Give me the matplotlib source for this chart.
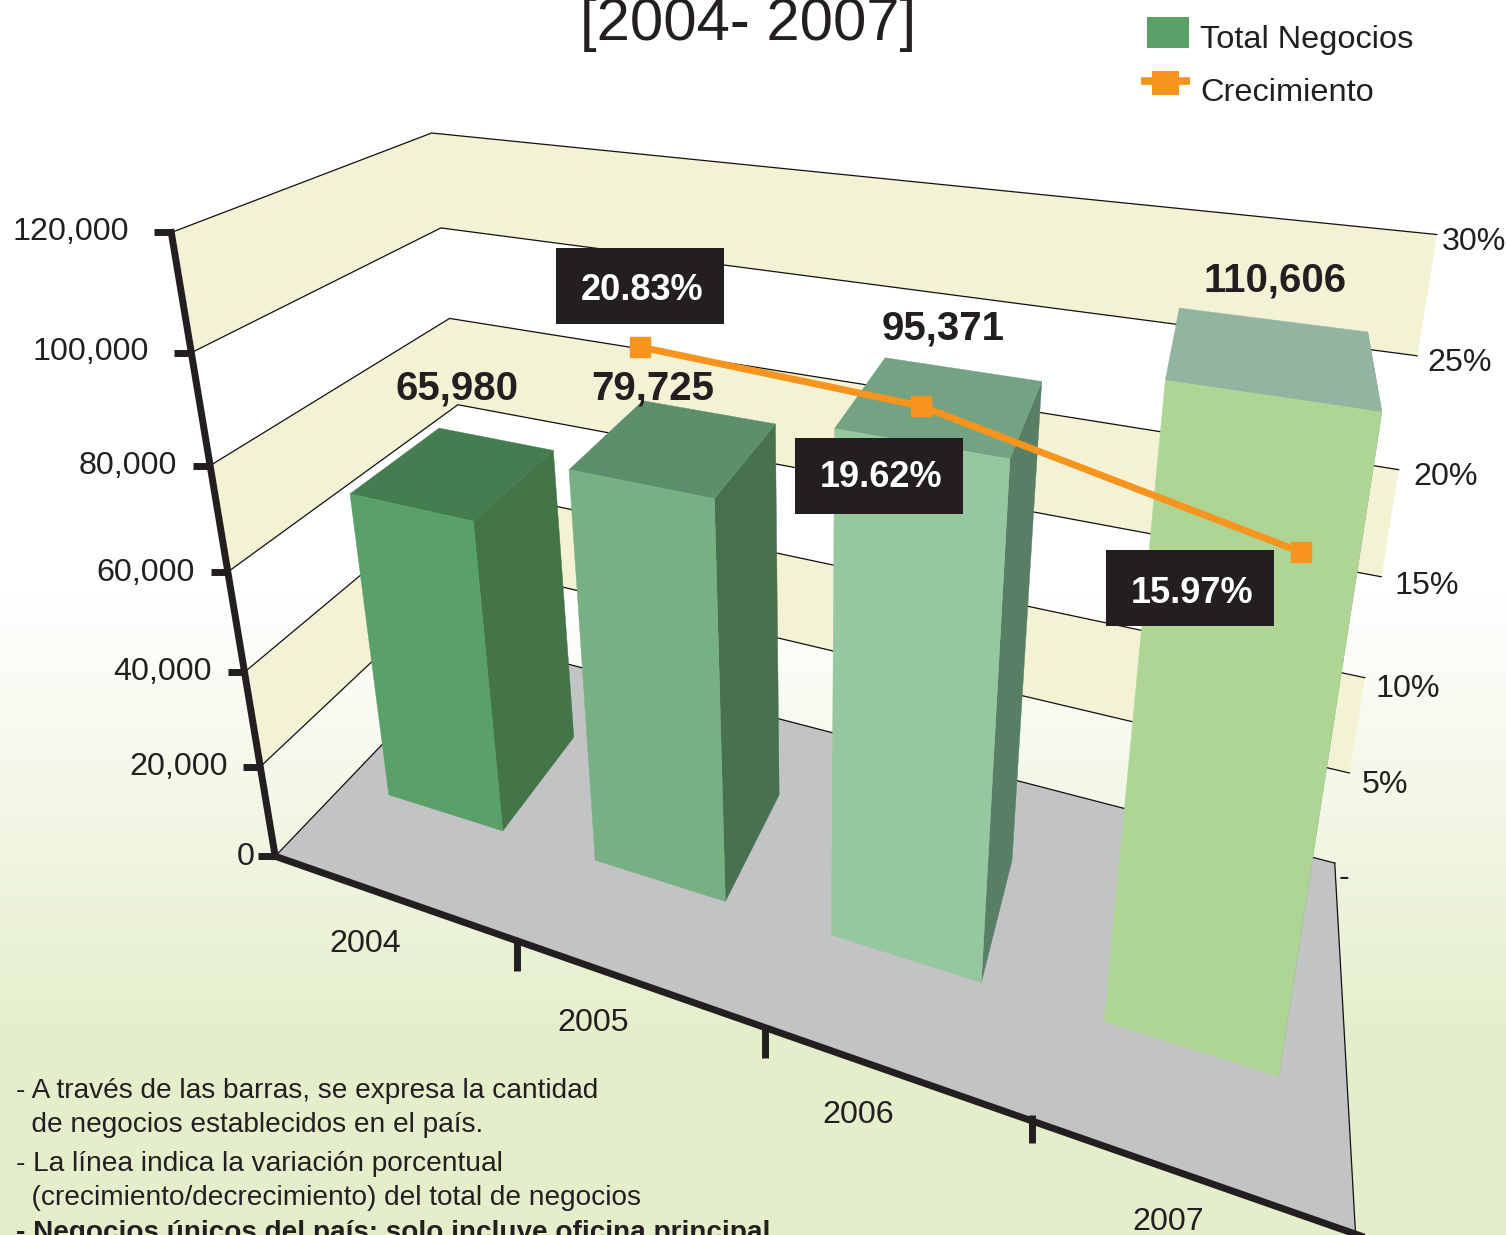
import numpy as np
import matplotlib
matplotlib.use("Agg")
import matplotlib.pyplot as plt
from matplotlib.patches import Polygon, Rectangle

plt.rcParams['font.family'] = ['Liberation Sans', 'DejaVu Sans']

years = ['2004', '2005', '2006', '2007']
negocios = [65980, 79725, 95371, 110606]
crecimiento = [20.83, 19.62, 15.97]
left_ticks = [0, 20000, 40000, 60000, 80000, 100000, 120000]
right_ticks = [0, 5, 10, 15, 20, 25, 30]
notes = ['- A través de las barras, se expresa la cantidad',
         '  de negocios establecidos en el país.',
         '- La línea indica la variación porcentual',
         '  (crecimiento/decrecimiento) del total de negocios']
note_bold = '- Negocios únicos del país: solo incluye oficina principal'

TXT = '#231f20'
WALL = '#f3f2d4'
FLOOR = '#c2c3c5'
ORANGE = '#f7941d'
front_col = ['#5aa169', '#76b083', '#96c8a0', '#afd595']
side_col = ['#447549', '#48714f', '#587f66', '#7fa58a']
top_col = ['#447d4f', '#5e8f6c', '#74a384', '#93b4a0']

# camera for the fake 3d box, fitted on the corners of the chart box
ref3d = np.array([[0,0,0],[1,0,0],[0,0,1],[1,0,1],[0,1,0],[0,1,1],[1,1,1]], float)
refpx = np.array([[275,856],[1355,1235],[481,642],[1335,862],[172,232],[431,133],[1437,235]], float)
A = []
for (x,y,z),(px,py) in zip(ref3d, refpx):
    A.append([x,y,z,1,0,0,0,0,-px*x,-px*y,-px*z,-px])
    A.append([0,0,0,0,x,y,z,1,-py*x,-py*y,-py*z,-py])
P = np.linalg.svd(np.array(A))[2][-1].reshape(3,4)

def proj(u, v, w):
    q = P @ np.array([u, v, w, 1.0])
    return q[0]/q[2], q[1]/q[2]

fig = plt.figure(figsize=(15.06, 12.35), dpi=100)
ax = fig.add_axes([0, 0, 1, 1])
ax.set_xlim(0, 1506)
ax.set_ylim(1235, 0)
ax.axis('off')

# background
ys = np.arange(1235)
grad = np.stack([np.interp(ys, [590, 1050], [1, c/255]) for c in (0xe4, 0xee, 0xca)], axis=1)[:, None, :]
ax.imshow(grad, extent=(0, 1506, 1235, 0), aspect='auto', zorder=0)

def face(pts, color, z=2):
    ax.add_patch(Polygon([proj(*p) for p in pts], closed=True, fc=color, ec=color, lw=0.3, zorder=z))

# walls, every other band is coloured
for i in [1, 3, 5]:
    v0, v1 = left_ticks[i]/120000, left_ticks[i+1]/120000
    face([(0,v0,0), (0,v1,0), (0,v1,1), (0,v0,1)], WALL, 1)
    face([(0,v0,1), (0,v1,1), (1,v1,1), (1,v0,1)], WALL, 1)
face([(0,0,0), (1,0,0), (1,0,1), (0,0,1)], FLOOR, 1)
for t in left_ticks:
    v = t/120000
    ax.plot(*zip(proj(0,v,0), proj(0,v,1), proj(1,v,1)), color='#111111', lw=0.9, zorder=1.5)
ax.plot(*zip(proj(1,0,1), proj(1,0,0)), color='#111111', lw=0.9, zorder=1.5)

# bars
bar_u = [0.055, 0.305, 0.555, 0.805]
bar_w = 0.142
for i, val in enumerate(negocios):
    u0, u1 = bar_u[i], bar_u[i]+bar_w
    v = val/120000
    w0, w1 = 0.298, 0.699
    face([(u1,0,w0), (u1,0,w1), (u1,v,w1), (u1,v,w0)], side_col[i], 3)
    face([(u0,v,w0), (u1,v,w0), (u1,v,w1), (u0,v,w1)], top_col[i], 3)
    face([(u0,0,w0), (u1,0,w0), (u1,v,w0), (u0,v,w0)], front_col[i], 4)

# axes
ax.plot(*zip(proj(0,1,0), proj(0,0,0)), color=TXT, lw=5, zorder=6, solid_capstyle='projecting')
ax.plot(*zip(proj(0,0,0), proj(1.02,0,0)), color=TXT, lw=5, zorder=6)
left_lab_dx = [21, 32, 33, 33, 33, 42, 42]
left_lab_dy = [1, 0, 0, 1, 0, -1, 0]
for t, dx, dy in zip(left_ticks, left_lab_dx, left_lab_dy):
    x, y = proj(0, t/120000, 0)
    ax.plot([x-17, x], [y, y], color=TXT, lw=5, zorder=6, solid_capstyle='butt')
    ax.text(x-dx, y+dy, f'{t:,}', ha='right', va='center', fontsize=23.2, color=TXT, zorder=7)
for u, y0, y1 in zip([0.282, 0.531, 0.761], [0, -2, -6], [30, 30, 22]):
    x, y = proj(u, 0, 0)
    ax.plot([x, x], [y+y0, y+y1], color=TXT, lw=5, zorder=6, solid_capstyle='butt')

right_lab = [(1339, 878), (1362, 785), (1376, 689), (1395, 586), (1413, 477), (1427, 363), (1442, 242)]
for t, (x, y) in zip(right_ticks, right_lab):
    ax.text(x, y, f'{t}%' if t else '-', ha='left', va='center', fontsize=23.2, color=TXT, zorder=7)

cat_lab = [(365, 944), (593, 1023), (858, 1115), (1168, 1222)]
for yr, (x, y) in zip(years, cat_lab):
    ax.text(x, y, yr, ha='center', va='center', fontsize=23.2, color=TXT, zorder=7)

val_lab = [(457, 389), (653, 389), (943, 329), (1275, 281)]
for val, (x, y) in zip(negocios, val_lab):
    ax.text(x, y, f'{val:,}', ha='center', va='center', fontsize=29, weight='bold', color=TXT, zorder=8)

# growth line, sits near the back wall
line_u = [0.264, 0.565, 0.929]
line_w = [0.911, 0.971, 0.948]
xy = [proj(u, g/30, w) for u, g, w in zip(line_u, crecimiento, line_w)]
ax.plot(*zip(*xy), color=ORANGE, lw=5, marker='s', ms=14.5, zorder=9, solid_capstyle='butt')

box_lab = [(640, 285.5), (879, 476), (1190, 588)]
box_txt_y = [290.5, 477.5, 593.5]
for g, (x, y), ty in zip(crecimiento, box_lab, box_txt_y):
    ax.add_patch(Rectangle((x-84, y-38), 168, 76, fc=TXT, ec='none', zorder=10))
    ax.text(x+2, ty, f'{g:.2f}%', ha='center', va='center', fontsize=26, weight='bold', color='white', zorder=11)

# title and legend
ax.text(748, 40, '[2004- 2007]', ha='center', va='baseline', fontsize=43, color=TXT)
ax.add_patch(Rectangle((1147, 17), 42, 31, fc=front_col[0], ec='none'))
ax.plot([1141, 1190], [81, 81], color=ORANGE, lw=5.5, solid_capstyle='butt')
ax.add_patch(Rectangle((1152, 71), 27, 24, fc=ORANGE, ec='none', zorder=3))
ax.text(1200, 40, 'Total Negocios', ha='left', va='center', fontsize=23.4, color=TXT)
ax.text(1200, 93, 'Crecimiento', ha='left', va='center', fontsize=23.4, color=TXT)

# notes
for s, y in zip(notes, [1098, 1132, 1171, 1205]):
    ax.text(16, y, s, ha='left', va='baseline', fontsize=20.2, color=TXT)
ax.text(16, 1240, note_bold, ha='left', va='baseline', fontsize=20.05, weight='bold', color=TXT)

fig.savefig('out.png', dpi=100)
